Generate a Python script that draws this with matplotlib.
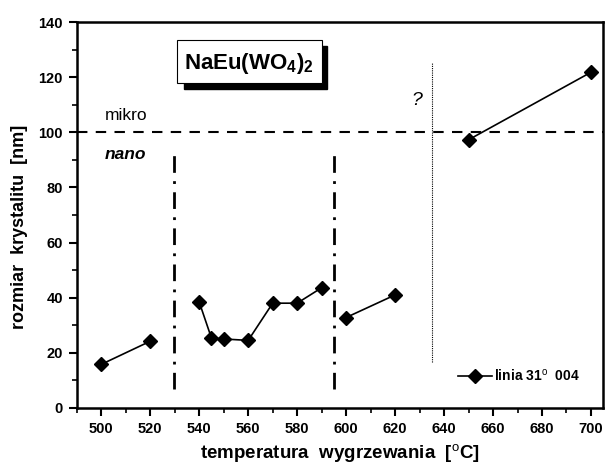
import numpy as np
import matplotlib.pyplot as plt
from matplotlib.ticker import MultipleLocator

plt.rcParams['font.family'] = ['Liberation Sans', 'DejaVu Sans']
plt.rcParams['mathtext.fontset'] = 'custom'
plt.rcParams['mathtext.rm'] = 'Liberation Sans'
plt.rcParams['mathtext.bf'] = 'Liberation Sans:bold'

# temperatura wygrzewania [C] and rozmiar krystalitu [nm]; NaN breaks the line between series groups
temp = [500, 520, np.nan, 540, 545, 550, 560, 570, 580, 590, np.nan, 600, 620, np.nan, 650, 700]
size = [15.8, 24.2, np.nan, 38.4, 25.3, 25.0, 24.5, 38.0, 38.0, 43.6, np.nan, 32.8, 41.0, np.nan, 97.3, 121.8]

boundaries = [529.5, 595]
uncertain = 635

fig = plt.figure(figsize=(6.05, 4.71), dpi=100)
ax = fig.add_axes([0.127, 0.134, 0.87, 0.819])

ax.plot(temp, size, color='black', lw=1.2, marker='D', ms=7, label='linia 31$^{\\rm o}$  004')

ax.axhline(100, color='black', lw=1.5, ls=(0, (5, 4)))
for b in boundaries:
    ax.plot([b, b], [7, 92], color='black', lw=2, ls=(0, (6, 3, 1, 3)))
ax.plot([uncertain, uncertain], [16.5, 125], color='black', lw=0.8, ls=(0, (1, 1)))

ax.text(501.5, 104.5, 'mikro', fontsize=12.5)
ax.text(501.5, 90.5, 'nano', fontsize=12.5, fontweight='bold', style='italic')
ax.text(626.5, 110, '?', fontsize=14, style='italic')

# title box with shadow
fig.patches.append(plt.Rectangle((0.304, 0.811), 0.237, 0.092, transform=fig.transFigure,
                                 facecolor='black', edgecolor='black', zorder=1))
fig.patches.append(plt.Rectangle((0.293, 0.824), 0.240, 0.091, transform=fig.transFigure,
                                 facecolor='white', edgecolor='black', lw=0.8, zorder=2))
fig.text(0.411, 0.866, 'NaEu(WO$_{\\bf 4}$)$_{\\bf 2}$', ha='center', va='center',
         fontsize=16, fontweight='bold', zorder=3)

ax.set_xlim(490, 705)
ax.set_ylim(0, 140)
ax.xaxis.set_major_locator(MultipleLocator(20))
ax.xaxis.set_minor_locator(MultipleLocator(10))
ax.yaxis.set_major_locator(MultipleLocator(20))
ax.yaxis.set_minor_locator(MultipleLocator(10))
ax.tick_params(which='major', direction='out', length=6, width=1.5, labelsize=10.5, pad=4)
ax.tick_params(which='minor', direction='out', length=3.5, width=1.2)
for lab in ax.get_xticklabels() + ax.get_yticklabels():
    lab.set_fontweight('bold')
for s in ax.spines.values():
    s.set_linewidth(1.8)

ax.set_xlabel('temperatura  wygrzewania  [$^{\\rm o}$C]', fontsize=13.5, fontweight='bold', labelpad=5)
ax.set_ylabel('rozmiar  krystalitu  [nm]', fontsize=13, fontweight='bold')
ax.yaxis.set_label_coords(-0.093, 0.47)

leg = ax.legend(loc='lower right', frameon=False, handlelength=2.4, handletextpad=0.2,
                bbox_to_anchor=(0.98, 0.03), prop={'weight': 'bold', 'size': 10})

fig.savefig('out.png', dpi=100)
